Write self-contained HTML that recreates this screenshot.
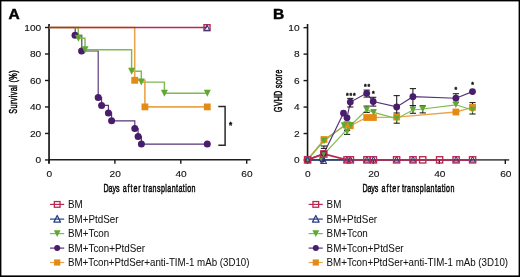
<!DOCTYPE html>
<html><head><meta charset="utf-8"><style>
html,body{margin:0;padding:0;background:#fff;}
svg{display:block;will-change:transform;}
text{font-family:"Liberation Sans",sans-serif;fill:#111;}
.st{stroke:#000;stroke-width:0.3;}
.lg{stroke:#222;stroke-width:0.04;}
.ax{stroke:#000;stroke-width:0.5;}
.tk{stroke:#111;stroke-width:0.12;}
.lb{stroke:#000;stroke-width:0.5;fill:#000;}
</style></head><body>
<svg width="520" height="277" viewBox="0 0 520 277">
<rect x="0" y="0" width="520" height="277" fill="#fff"/>
<rect x="0" y="0" width="520" height="1.4" fill="#000"/>
<rect x="0" y="0" width="1.4" height="277" fill="#000"/>
<rect x="518.6" y="0" width="1.4" height="277" fill="#000"/>
<rect x="0" y="275.4" width="520" height="1.6" fill="#000"/>
<text x="8.4" y="19.45" font-size="15.5" font-weight="bold" class="lb">A</text>
<text x="272.9" y="19.3" font-size="15.5" font-weight="bold" class="lb">B</text>
<line x1="49.05" y1="24.1" x2="49.05" y2="163.6" stroke="#262626" stroke-width="1.8"/>
<line x1="48.2" y1="159.75" x2="250.6" y2="159.75" stroke="#1e1e1e" stroke-width="1.55"/>
<line x1="45" y1="159.95" x2="49" y2="159.95" stroke="#1a1a1a" stroke-width="1.4"/>
<text x="41.2" y="163.30" font-size="9.4" text-anchor="end" textLength="5.64" lengthAdjust="spacingAndGlyphs" class="tk">0</text>
<line x1="45" y1="133.46" x2="49" y2="133.46" stroke="#1a1a1a" stroke-width="1.4"/>
<text x="41.2" y="136.81" font-size="9.4" text-anchor="end" textLength="11.29" lengthAdjust="spacingAndGlyphs" class="tk">20</text>
<line x1="45" y1="106.97" x2="49" y2="106.97" stroke="#1a1a1a" stroke-width="1.4"/>
<text x="41.2" y="110.32" font-size="9.4" text-anchor="end" textLength="11.29" lengthAdjust="spacingAndGlyphs" class="tk">40</text>
<line x1="45" y1="80.48" x2="49" y2="80.48" stroke="#1a1a1a" stroke-width="1.4"/>
<text x="41.2" y="83.83" font-size="9.4" text-anchor="end" textLength="11.29" lengthAdjust="spacingAndGlyphs" class="tk">60</text>
<line x1="45" y1="53.99" x2="49" y2="53.99" stroke="#1a1a1a" stroke-width="1.4"/>
<text x="41.2" y="57.34" font-size="9.4" text-anchor="end" textLength="11.29" lengthAdjust="spacingAndGlyphs" class="tk">80</text>
<line x1="45" y1="27.50" x2="49" y2="27.50" stroke="#1a1a1a" stroke-width="1.4"/>
<text x="41.2" y="30.85" font-size="9.4" text-anchor="end" textLength="16.93" lengthAdjust="spacingAndGlyphs" class="tk">100</text>
<line x1="49.00" y1="159.6" x2="49.00" y2="163.8" stroke="#1a1a1a" stroke-width="1.4"/>
<text x="49.30" y="176.6" font-size="9.4" text-anchor="middle" textLength="5.64" lengthAdjust="spacingAndGlyphs" class="tk">0</text>
<line x1="114.90" y1="159.6" x2="114.90" y2="163.8" stroke="#1a1a1a" stroke-width="1.4"/>
<text x="115.20" y="176.6" font-size="9.4" text-anchor="middle" textLength="11.29" lengthAdjust="spacingAndGlyphs" class="tk">20</text>
<line x1="180.80" y1="159.6" x2="180.80" y2="163.8" stroke="#1a1a1a" stroke-width="1.4"/>
<text x="181.10" y="176.6" font-size="9.4" text-anchor="middle" textLength="11.29" lengthAdjust="spacingAndGlyphs" class="tk">40</text>
<line x1="246.70" y1="159.6" x2="246.70" y2="163.8" stroke="#1a1a1a" stroke-width="1.4"/>
<text x="247.00" y="176.6" font-size="9.4" text-anchor="middle" textLength="11.29" lengthAdjust="spacingAndGlyphs" class="tk">60</text>
<text transform="translate(103.50,191.9) scale(0.62,1)" x="0" y="0" font-size="11.5" textLength="25.81" lengthAdjust="spacing" class="ax">Days</text>
<text transform="translate(122.70,191.9) scale(0.62,1)" x="0" y="0" font-size="11.5" textLength="29.03" lengthAdjust="spacing" class="ax">after</text>
<text transform="translate(143.00,191.9) scale(0.62,1)" x="0" y="0" font-size="11.5" textLength="84.68" lengthAdjust="spacing" class="ax">transplantation</text>
<text transform="translate(17.2,113.7) rotate(-90) scale(0.62,1)" x="0" y="0" font-size="11.8" textLength="69.84" lengthAdjust="spacing" class="ax">Survival (%)</text>
<line x1="307.55" y1="24.0" x2="307.55" y2="163.6" stroke="#161616" stroke-width="1.6"/>
<line x1="306.75" y1="159.85" x2="509.2" y2="159.85" stroke="#555" stroke-width="1.6"/>
<line x1="303.55" y1="160.00" x2="307.55" y2="160.00" stroke="#1a1a1a" stroke-width="1.4"/>
<text x="299.65" y="163.35" font-size="9.4" text-anchor="end" textLength="5.64" lengthAdjust="spacingAndGlyphs" class="tk">0</text>
<line x1="303.55" y1="133.53" x2="307.55" y2="133.53" stroke="#1a1a1a" stroke-width="1.4"/>
<text x="299.65" y="136.88" font-size="9.4" text-anchor="end" textLength="5.64" lengthAdjust="spacingAndGlyphs" class="tk">2</text>
<line x1="303.55" y1="107.06" x2="307.55" y2="107.06" stroke="#1a1a1a" stroke-width="1.4"/>
<text x="299.65" y="110.41" font-size="9.4" text-anchor="end" textLength="5.64" lengthAdjust="spacingAndGlyphs" class="tk">4</text>
<line x1="303.55" y1="80.59" x2="307.55" y2="80.59" stroke="#1a1a1a" stroke-width="1.4"/>
<text x="299.65" y="83.94" font-size="9.4" text-anchor="end" textLength="5.64" lengthAdjust="spacingAndGlyphs" class="tk">6</text>
<line x1="303.55" y1="54.12" x2="307.55" y2="54.12" stroke="#1a1a1a" stroke-width="1.4"/>
<text x="299.65" y="57.47" font-size="9.4" text-anchor="end" textLength="5.64" lengthAdjust="spacingAndGlyphs" class="tk">8</text>
<line x1="303.55" y1="27.65" x2="307.55" y2="27.65" stroke="#1a1a1a" stroke-width="1.4"/>
<text x="299.65" y="31.00" font-size="9.4" text-anchor="end" textLength="11.29" lengthAdjust="spacingAndGlyphs" class="tk">10</text>
<line x1="307.35" y1="159.7" x2="307.35" y2="163.9" stroke="#1a1a1a" stroke-width="1.4"/>
<text x="307.85" y="176.6" font-size="9.4" text-anchor="middle" textLength="5.64" lengthAdjust="spacingAndGlyphs" class="tk">0</text>
<line x1="373.33" y1="159.7" x2="373.33" y2="163.9" stroke="#1a1a1a" stroke-width="1.4"/>
<text x="373.83" y="176.6" font-size="9.4" text-anchor="middle" textLength="11.29" lengthAdjust="spacingAndGlyphs" class="tk">20</text>
<line x1="439.32" y1="159.7" x2="439.32" y2="163.9" stroke="#1a1a1a" stroke-width="1.4"/>
<text x="439.82" y="176.6" font-size="9.4" text-anchor="middle" textLength="11.29" lengthAdjust="spacingAndGlyphs" class="tk">40</text>
<line x1="505.30" y1="159.7" x2="505.30" y2="163.9" stroke="#1a1a1a" stroke-width="1.4"/>
<text x="505.80" y="176.6" font-size="9.4" text-anchor="middle" textLength="11.29" lengthAdjust="spacingAndGlyphs" class="tk">60</text>
<text transform="translate(362.40,192.35) scale(0.62,1)" x="0" y="0" font-size="11.5" textLength="25.81" lengthAdjust="spacing" class="ax">Days</text>
<text transform="translate(381.60,192.35) scale(0.62,1)" x="0" y="0" font-size="11.5" textLength="29.03" lengthAdjust="spacing" class="ax">after</text>
<text transform="translate(401.90,192.35) scale(0.62,1)" x="0" y="0" font-size="11.5" textLength="84.68" lengthAdjust="spacing" class="ax">transplantation</text>
<text transform="translate(281.6,112.2) rotate(-90) scale(0.62,1)" x="0" y="0" font-size="11.8" textLength="68.39" lengthAdjust="spacing" class="ax">GVHD score</text>
<polyline points="49.00,27.50 75.20,27.50 75.20,35.20 81.80,35.20 81.80,51.00 98.20,51.00 98.20,97.60 101.60,97.60 101.60,105.40 108.40,105.40 108.40,113.00 111.60,113.00 111.60,120.80 134.80,120.80 134.80,128.60 138.10,128.60 138.10,136.40 141.40,136.40 141.40,144.10 207.30,144.10" fill="none" stroke="#553477" stroke-width="1.15" stroke-linejoin="miter"/>
<polyline points="49.00,27.50 78.30,27.50 78.30,38.30 85.00,38.30 85.00,49.80 131.60,49.80 131.60,71.30 141.30,71.30 141.30,82.10 164.40,82.10 164.40,93.30 207.30,93.30" fill="none" stroke="#7dbb4f" stroke-width="1.45" stroke-linejoin="miter"/>
<polyline points="49.00,27.50 134.70,27.50 134.70,80.30 144.90,80.30 144.90,106.90 207.30,106.90" fill="none" stroke="#e9a54c" stroke-width="1.6" stroke-linejoin="miter"/>
<line x1="49" y1="27.50" x2="207" y2="27.50" stroke="#b8284f" stroke-width="1.4"/>
<circle cx="75.00" cy="35.20" r="3.5" fill="#4a1c6c"/>
<circle cx="81.60" cy="51.00" r="3.5" fill="#4a1c6c"/>
<circle cx="98.20" cy="97.60" r="3.5" fill="#4a1c6c"/>
<circle cx="101.60" cy="105.40" r="3.5" fill="#4a1c6c"/>
<circle cx="108.40" cy="113.00" r="3.5" fill="#4a1c6c"/>
<circle cx="111.60" cy="120.80" r="3.5" fill="#4a1c6c"/>
<circle cx="134.80" cy="128.60" r="3.5" fill="#4a1c6c"/>
<circle cx="138.10" cy="136.40" r="3.5" fill="#4a1c6c"/>
<circle cx="141.40" cy="144.10" r="3.5" fill="#4a1c6c"/>
<circle cx="207.30" cy="144.10" r="3.5" fill="#4a1c6c"/>
<path d="M74.90,34.80 L81.90,34.80 L78.40,41.80 Z" fill="#5fa832"/>
<path d="M81.50,46.30 L88.50,46.30 L85.00,53.30 Z" fill="#5fa832"/>
<path d="M128.10,67.80 L135.10,67.80 L131.60,74.80 Z" fill="#5fa832"/>
<path d="M137.80,78.60 L144.80,78.60 L141.30,85.60 Z" fill="#5fa832"/>
<path d="M160.90,89.80 L167.90,89.80 L164.40,96.80 Z" fill="#5fa832"/>
<path d="M203.80,89.80 L210.80,89.80 L207.30,96.80 Z" fill="#5fa832"/>
<rect x="131.30" y="76.90" width="6.80" height="6.80" fill="#e38b14"/>
<rect x="141.50" y="103.50" width="6.80" height="6.80" fill="#e38b14"/>
<rect x="203.90" y="103.50" width="6.80" height="6.80" fill="#e38b14"/>
<rect x="204.00" y="24.70" width="6.00" height="6.00" fill="none" stroke="#b8284f" stroke-width="1.4"/>
<path d="M207.00,24.90 L209.70,30.30 L204.30,30.30 Z" fill="none" stroke="#263f85" stroke-width="1.05" stroke-linejoin="round"/>
<polyline points="218.3,106.4 225.1,106.4 225.1,145.3 218.3,145.3" fill="none" stroke="#2a2a2a" stroke-width="1.5"/>
<text x="230.5" y="128.2" font-size="8.2" font-weight="bold" text-anchor="middle" class="st">*</text>
<polyline points="307.60,160.00 347.00,159.90 350.40,159.90 366.90,159.90 373.40,159.90 396.60,159.90 413.00,159.90 456.10,159.90 472.60,159.90" fill="none" stroke="#263f85" stroke-width="1.4" stroke-linejoin="miter"/>
<polyline points="307.60,159.50 324.00,139.50 347.00,124.50 350.30,125.80 366.70,117.50 373.40,117.50 396.70,117.10 455.90,112.00 472.50,107.40" fill="none" stroke="#e9a54c" stroke-width="1.3" stroke-linejoin="miter"/>
<polyline points="307.60,159.50 324.00,141.00 344.00,125.60 347.10,131.80 350.70,125.30 366.70,109.80 373.60,112.40 396.70,118.70 412.90,110.00 422.70,109.00 455.90,104.80 472.50,110.00" fill="none" stroke="#7dbb4f" stroke-width="1.2" stroke-linejoin="miter"/>
<polyline points="324.50,153.60 350.70,125.30" fill="none" stroke="#7dbb4f" stroke-width="1.2" stroke-linejoin="miter"/>
<polyline points="307.60,159.50 323.80,153.60 343.50,113.20 347.00,117.80 350.30,102.10 366.70,93.30 373.20,101.50 396.70,106.90 412.90,96.70 455.90,98.20 472.50,91.60" fill="none" stroke="#553477" stroke-width="1.15" stroke-linejoin="miter"/>
<polyline points="307.60,159.90 323.80,154.00 347.00,159.85 350.40,159.85 366.90,159.85 373.40,159.85 396.60,159.85 413.00,159.85 422.70,159.85 439.60,159.85 456.10,159.85 472.60,159.85" fill="none" stroke="#b8284f" stroke-width="1.7" stroke-linejoin="miter"/>
<line x1="323.9" y1="146.0" x2="323.9" y2="148.4" stroke="#222" stroke-width="1.1"/>
<line x1="320.79999999999995" y1="146.0" x2="327.0" y2="146.0" stroke="#222" stroke-width="1.1"/>
<line x1="320.79999999999995" y1="148.4" x2="327.0" y2="148.4" stroke="#222" stroke-width="1.1"/>
<line x1="350.3" y1="98.4" x2="350.3" y2="107.0" stroke="#222" stroke-width="1.1"/>
<line x1="347.2" y1="98.4" x2="353.40000000000003" y2="98.4" stroke="#222" stroke-width="1.1"/>
<line x1="347.2" y1="107.0" x2="353.40000000000003" y2="107.0" stroke="#222" stroke-width="1.1"/>
<line x1="347.1" y1="130.5" x2="347.1" y2="134.4" stroke="#222" stroke-width="1.1"/>
<line x1="344.0" y1="130.5" x2="350.20000000000005" y2="130.5" stroke="#222" stroke-width="1.1"/>
<line x1="344.0" y1="134.4" x2="350.20000000000005" y2="134.4" stroke="#222" stroke-width="1.1"/>
<line x1="366.7" y1="90.1" x2="366.7" y2="97.1" stroke="#222" stroke-width="1.1"/>
<line x1="363.59999999999997" y1="90.1" x2="369.8" y2="90.1" stroke="#222" stroke-width="1.1"/>
<line x1="363.59999999999997" y1="97.1" x2="369.8" y2="97.1" stroke="#222" stroke-width="1.1"/>
<line x1="366.7" y1="106.1" x2="366.7" y2="112.4" stroke="#222" stroke-width="1.1"/>
<line x1="363.59999999999997" y1="106.1" x2="369.8" y2="106.1" stroke="#222" stroke-width="1.1"/>
<line x1="363.59999999999997" y1="112.4" x2="369.8" y2="112.4" stroke="#222" stroke-width="1.1"/>
<line x1="373.2" y1="97.3" x2="373.2" y2="106.1" stroke="#222" stroke-width="1.1"/>
<line x1="370.09999999999997" y1="97.3" x2="376.3" y2="97.3" stroke="#222" stroke-width="1.1"/>
<line x1="370.09999999999997" y1="106.1" x2="376.3" y2="106.1" stroke="#222" stroke-width="1.1"/>
<line x1="396.7" y1="95.6" x2="396.7" y2="118.2" stroke="#222" stroke-width="1.1"/>
<line x1="393.59999999999997" y1="95.6" x2="399.8" y2="95.6" stroke="#222" stroke-width="1.1"/>
<line x1="393.59999999999997" y1="118.2" x2="399.8" y2="118.2" stroke="#222" stroke-width="1.1"/>
<line x1="396.7" y1="113.0" x2="396.7" y2="123.2" stroke="#222" stroke-width="1.1"/>
<line x1="393.59999999999997" y1="113.0" x2="399.8" y2="113.0" stroke="#222" stroke-width="1.1"/>
<line x1="393.59999999999997" y1="123.2" x2="399.8" y2="123.2" stroke="#222" stroke-width="1.1"/>
<line x1="412.9" y1="88.6" x2="412.9" y2="105.6" stroke="#222" stroke-width="1.1"/>
<line x1="409.79999999999995" y1="88.6" x2="416.0" y2="88.6" stroke="#222" stroke-width="1.1"/>
<line x1="409.79999999999995" y1="105.6" x2="416.0" y2="105.6" stroke="#222" stroke-width="1.1"/>
<line x1="412.9" y1="105.6" x2="412.9" y2="113.3" stroke="#222" stroke-width="1.1"/>
<line x1="409.79999999999995" y1="105.6" x2="416.0" y2="105.6" stroke="#222" stroke-width="1.1"/>
<line x1="409.79999999999995" y1="113.3" x2="416.0" y2="113.3" stroke="#222" stroke-width="1.1"/>
<line x1="422.7" y1="105.8" x2="422.7" y2="112.9" stroke="#222" stroke-width="1.1"/>
<line x1="419.59999999999997" y1="105.8" x2="425.8" y2="105.8" stroke="#222" stroke-width="1.1"/>
<line x1="419.59999999999997" y1="112.9" x2="425.8" y2="112.9" stroke="#222" stroke-width="1.1"/>
<line x1="455.9" y1="93.7" x2="455.9" y2="102.6" stroke="#222" stroke-width="1.1"/>
<line x1="452.79999999999995" y1="93.7" x2="459.0" y2="93.7" stroke="#222" stroke-width="1.1"/>
<line x1="452.79999999999995" y1="102.6" x2="459.0" y2="102.6" stroke="#222" stroke-width="1.1"/>
<line x1="472.5" y1="102.6" x2="472.5" y2="114.0" stroke="#222" stroke-width="1.1"/>
<line x1="469.4" y1="102.6" x2="475.6" y2="102.6" stroke="#222" stroke-width="1.1"/>
<line x1="469.4" y1="114.0" x2="475.6" y2="114.0" stroke="#222" stroke-width="1.1"/>
<rect x="304.20" y="156.10" width="6.80" height="6.80" fill="#e38b14"/>
<rect x="320.60" y="136.10" width="6.80" height="6.80" fill="#e38b14"/>
<rect x="343.60" y="121.10" width="6.80" height="6.80" fill="#e38b14"/>
<rect x="346.90" y="122.40" width="6.80" height="6.80" fill="#e38b14"/>
<rect x="363.30" y="114.10" width="6.80" height="6.80" fill="#e38b14"/>
<rect x="370.00" y="114.10" width="6.80" height="6.80" fill="#e38b14"/>
<rect x="393.30" y="113.70" width="6.80" height="6.80" fill="#e38b14"/>
<rect x="452.50" y="108.60" width="6.80" height="6.80" fill="#e38b14"/>
<rect x="469.10" y="104.00" width="6.80" height="6.80" fill="#e38b14"/>
<circle cx="307.60" cy="159.50" r="3.4" fill="#4a1c6c"/>
<circle cx="323.80" cy="153.60" r="3.4" fill="#4a1c6c"/>
<circle cx="343.50" cy="113.20" r="3.4" fill="#4a1c6c"/>
<circle cx="347.00" cy="117.80" r="3.4" fill="#4a1c6c"/>
<circle cx="350.30" cy="102.10" r="3.4" fill="#4a1c6c"/>
<circle cx="366.70" cy="93.30" r="3.4" fill="#4a1c6c"/>
<circle cx="373.20" cy="101.50" r="3.4" fill="#4a1c6c"/>
<circle cx="396.70" cy="106.90" r="3.4" fill="#4a1c6c"/>
<circle cx="412.90" cy="96.70" r="3.4" fill="#4a1c6c"/>
<circle cx="455.90" cy="98.20" r="3.4" fill="#4a1c6c"/>
<circle cx="472.50" cy="91.60" r="3.4" fill="#4a1c6c"/>
<circle cx="322.30" cy="159.80" r="3.0" fill="#4a1c6c"/>
<path d="M304.30,156.20 L310.90,156.20 L307.60,162.80 Z" fill="#5fa832"/>
<path d="M320.70,137.70 L327.30,137.70 L324.00,144.30 Z" fill="#5fa832"/>
<path d="M340.70,122.30 L347.30,122.30 L344.00,128.90 Z" fill="#5fa832"/>
<path d="M343.80,128.50 L350.40,128.50 L347.10,135.10 Z" fill="#5fa832"/>
<path d="M347.40,122.00 L354.00,122.00 L350.70,128.60 Z" fill="#5fa832"/>
<path d="M363.40,106.50 L370.00,106.50 L366.70,113.10 Z" fill="#5fa832"/>
<path d="M370.30,109.10 L376.90,109.10 L373.60,115.70 Z" fill="#5fa832"/>
<path d="M393.40,115.40 L400.00,115.40 L396.70,122.00 Z" fill="#5fa832"/>
<path d="M409.60,106.70 L416.20,106.70 L412.90,113.30 Z" fill="#5fa832"/>
<path d="M419.40,105.70 L426.00,105.70 L422.70,112.30 Z" fill="#5fa832"/>
<path d="M452.60,101.50 L459.20,101.50 L455.90,108.10 Z" fill="#5fa832"/>
<path d="M469.20,106.70 L475.80,106.70 L472.50,113.30 Z" fill="#5fa832"/>
<path d="M318.70,156.50 L324.10,156.50 L321.40,161.90 Z" fill="#5fa832"/>
<path d="M321.30,152.30 L325.90,152.30 L323.60,156.90 Z" fill="#5fa832"/>
<path d="M307.60,156.60 L310.30,162.00 L304.90,162.00 Z" fill="none" stroke="#263f85" stroke-width="1.05" stroke-linejoin="round"/>
<path d="M347.00,156.50 L349.70,161.90 L344.30,161.90 Z" fill="none" stroke="#263f85" stroke-width="1.05" stroke-linejoin="round"/>
<path d="M350.40,156.50 L353.10,161.90 L347.70,161.90 Z" fill="none" stroke="#263f85" stroke-width="1.05" stroke-linejoin="round"/>
<path d="M366.90,156.50 L369.60,161.90 L364.20,161.90 Z" fill="none" stroke="#263f85" stroke-width="1.05" stroke-linejoin="round"/>
<path d="M373.40,156.50 L376.10,161.90 L370.70,161.90 Z" fill="none" stroke="#263f85" stroke-width="1.05" stroke-linejoin="round"/>
<path d="M396.60,156.50 L399.30,161.90 L393.90,161.90 Z" fill="none" stroke="#263f85" stroke-width="1.05" stroke-linejoin="round"/>
<path d="M413.00,156.50 L415.70,161.90 L410.30,161.90 Z" fill="none" stroke="#263f85" stroke-width="1.05" stroke-linejoin="round"/>
<path d="M456.10,156.50 L458.80,161.90 L453.40,161.90 Z" fill="none" stroke="#263f85" stroke-width="1.05" stroke-linejoin="round"/>
<path d="M472.60,156.50 L475.30,161.90 L469.90,161.90 Z" fill="none" stroke="#263f85" stroke-width="1.05" stroke-linejoin="round"/>
<path d="M323.60,157.70 L326.50,163.50 L320.70,163.50 Z" fill="none" stroke="#263f85" stroke-width="1.1" stroke-linejoin="round"/>
<rect x="304.48" y="156.78" width="6.25" height="6.25" fill="none" stroke="#b8284f" stroke-width="1.35"/>
<rect x="320.68" y="150.88" width="6.25" height="6.25" fill="none" stroke="#b8284f" stroke-width="1.35"/>
<rect x="343.88" y="156.72" width="6.25" height="6.25" fill="none" stroke="#b8284f" stroke-width="1.35"/>
<rect x="347.27" y="156.72" width="6.25" height="6.25" fill="none" stroke="#b8284f" stroke-width="1.35"/>
<rect x="363.77" y="156.72" width="6.25" height="6.25" fill="none" stroke="#b8284f" stroke-width="1.35"/>
<rect x="370.27" y="156.72" width="6.25" height="6.25" fill="none" stroke="#b8284f" stroke-width="1.35"/>
<rect x="393.48" y="156.72" width="6.25" height="6.25" fill="none" stroke="#b8284f" stroke-width="1.35"/>
<rect x="409.88" y="156.72" width="6.25" height="6.25" fill="none" stroke="#b8284f" stroke-width="1.35"/>
<rect x="419.57" y="156.72" width="6.25" height="6.25" fill="none" stroke="#b8284f" stroke-width="1.35"/>
<rect x="436.48" y="156.72" width="6.25" height="6.25" fill="none" stroke="#b8284f" stroke-width="1.35"/>
<rect x="452.98" y="156.72" width="6.25" height="6.25" fill="none" stroke="#b8284f" stroke-width="1.35"/>
<rect x="469.48" y="156.72" width="6.25" height="6.25" fill="none" stroke="#b8284f" stroke-width="1.35"/>
<text x="347.40" y="97.5" font-size="6.8" font-weight="bold" text-anchor="middle" class="st">*</text>
<text x="350.90" y="97.5" font-size="6.8" font-weight="bold" text-anchor="middle" class="st">*</text>
<text x="354.40" y="97.5" font-size="6.8" font-weight="bold" text-anchor="middle" class="st">*</text>
<text x="365.35" y="88.8" font-size="6.8" font-weight="bold" text-anchor="middle" class="st">*</text>
<text x="368.85" y="88.8" font-size="6.8" font-weight="bold" text-anchor="middle" class="st">*</text>
<text x="373.40" y="96.0" font-size="6.8" font-weight="bold" text-anchor="middle" class="st">*</text>
<text x="455.90" y="92.4" font-size="6.8" font-weight="bold" text-anchor="middle" class="st">*</text>
<text x="472.50" y="87.0" font-size="6.8" font-weight="bold" text-anchor="middle" class="st">*</text>
<line x1="50.0" y1="204.4" x2="64.2" y2="204.4" stroke="#b8284f" stroke-width="1.2"/>
<rect x="54.35" y="201.55" width="5.70" height="5.70" fill="none" stroke="#b8284f" stroke-width="1.3"/>
<text x="68.0" y="208.05" font-size="10.6" textLength="14.74" lengthAdjust="spacingAndGlyphs" class="lg">BM</text>
<line x1="50.0" y1="219.1" x2="64.2" y2="219.1" stroke="#263f85" stroke-width="1.2"/>
<path d="M57.20,215.50 L60.50,222.10 L53.90,222.10 Z" fill="none" stroke="#263f85" stroke-width="1.25" stroke-linejoin="round"/>
<text x="68.0" y="222.85" font-size="10.6" textLength="50.54" lengthAdjust="spacingAndGlyphs" class="lg">BM+PtdSer</text>
<line x1="50.0" y1="233.6" x2="64.2" y2="233.6" stroke="#7dbb4f" stroke-width="1.2"/>
<path d="M53.80,230.20 L60.60,230.20 L57.20,237.00 Z" fill="#5fa832"/>
<text x="68.0" y="237.15" font-size="10.6" textLength="41.25" lengthAdjust="spacingAndGlyphs" class="lg">BM+Tcon</text>
<line x1="50.0" y1="248.1" x2="64.2" y2="248.1" stroke="#553477" stroke-width="1.2"/>
<circle cx="57.20" cy="248.10" r="3.0" fill="#4a1c6c"/>
<text x="68.0" y="251.95" font-size="10.6" textLength="77.03" lengthAdjust="spacingAndGlyphs" class="lg">BM+Tcon+PtdSer</text>
<line x1="50.0" y1="262.5" x2="64.2" y2="262.5" stroke="#e9a54c" stroke-width="1.2"/>
<rect x="54.10" y="259.40" width="6.20" height="6.20" fill="#e38b14"/>
<text x="68.0" y="265.95" font-size="10.6" textLength="181.52" lengthAdjust="spacingAndGlyphs" class="lg">BM+Tcon+PtdSer+anti-TIM-1 mAb (3D10)</text>
<line x1="308.6" y1="204.4" x2="322.8" y2="204.4" stroke="#b8284f" stroke-width="1.2"/>
<rect x="312.95" y="201.55" width="5.70" height="5.70" fill="none" stroke="#b8284f" stroke-width="1.3"/>
<text x="326.6" y="208.05" font-size="10.6" textLength="14.74" lengthAdjust="spacingAndGlyphs" class="lg">BM</text>
<line x1="308.6" y1="219.1" x2="322.8" y2="219.1" stroke="#263f85" stroke-width="1.2"/>
<path d="M315.80,215.50 L319.10,222.10 L312.50,222.10 Z" fill="none" stroke="#263f85" stroke-width="1.25" stroke-linejoin="round"/>
<text x="326.6" y="222.85" font-size="10.6" textLength="50.54" lengthAdjust="spacingAndGlyphs" class="lg">BM+PtdSer</text>
<line x1="308.6" y1="233.6" x2="322.8" y2="233.6" stroke="#7dbb4f" stroke-width="1.2"/>
<path d="M312.40,230.20 L319.20,230.20 L315.80,237.00 Z" fill="#5fa832"/>
<text x="326.6" y="237.15" font-size="10.6" textLength="41.25" lengthAdjust="spacingAndGlyphs" class="lg">BM+Tcon</text>
<line x1="308.6" y1="248.1" x2="322.8" y2="248.1" stroke="#553477" stroke-width="1.2"/>
<circle cx="315.80" cy="248.10" r="3.0" fill="#4a1c6c"/>
<text x="326.6" y="251.95" font-size="10.6" textLength="77.03" lengthAdjust="spacingAndGlyphs" class="lg">BM+Tcon+PtdSer</text>
<line x1="308.6" y1="262.5" x2="322.8" y2="262.5" stroke="#e9a54c" stroke-width="1.2"/>
<rect x="312.70" y="259.40" width="6.20" height="6.20" fill="#e38b14"/>
<text x="326.6" y="265.95" font-size="10.6" textLength="181.52" lengthAdjust="spacingAndGlyphs" class="lg">BM+Tcon+PtdSer+anti-TIM-1 mAb (3D10)</text>
</svg>
</body></html>
